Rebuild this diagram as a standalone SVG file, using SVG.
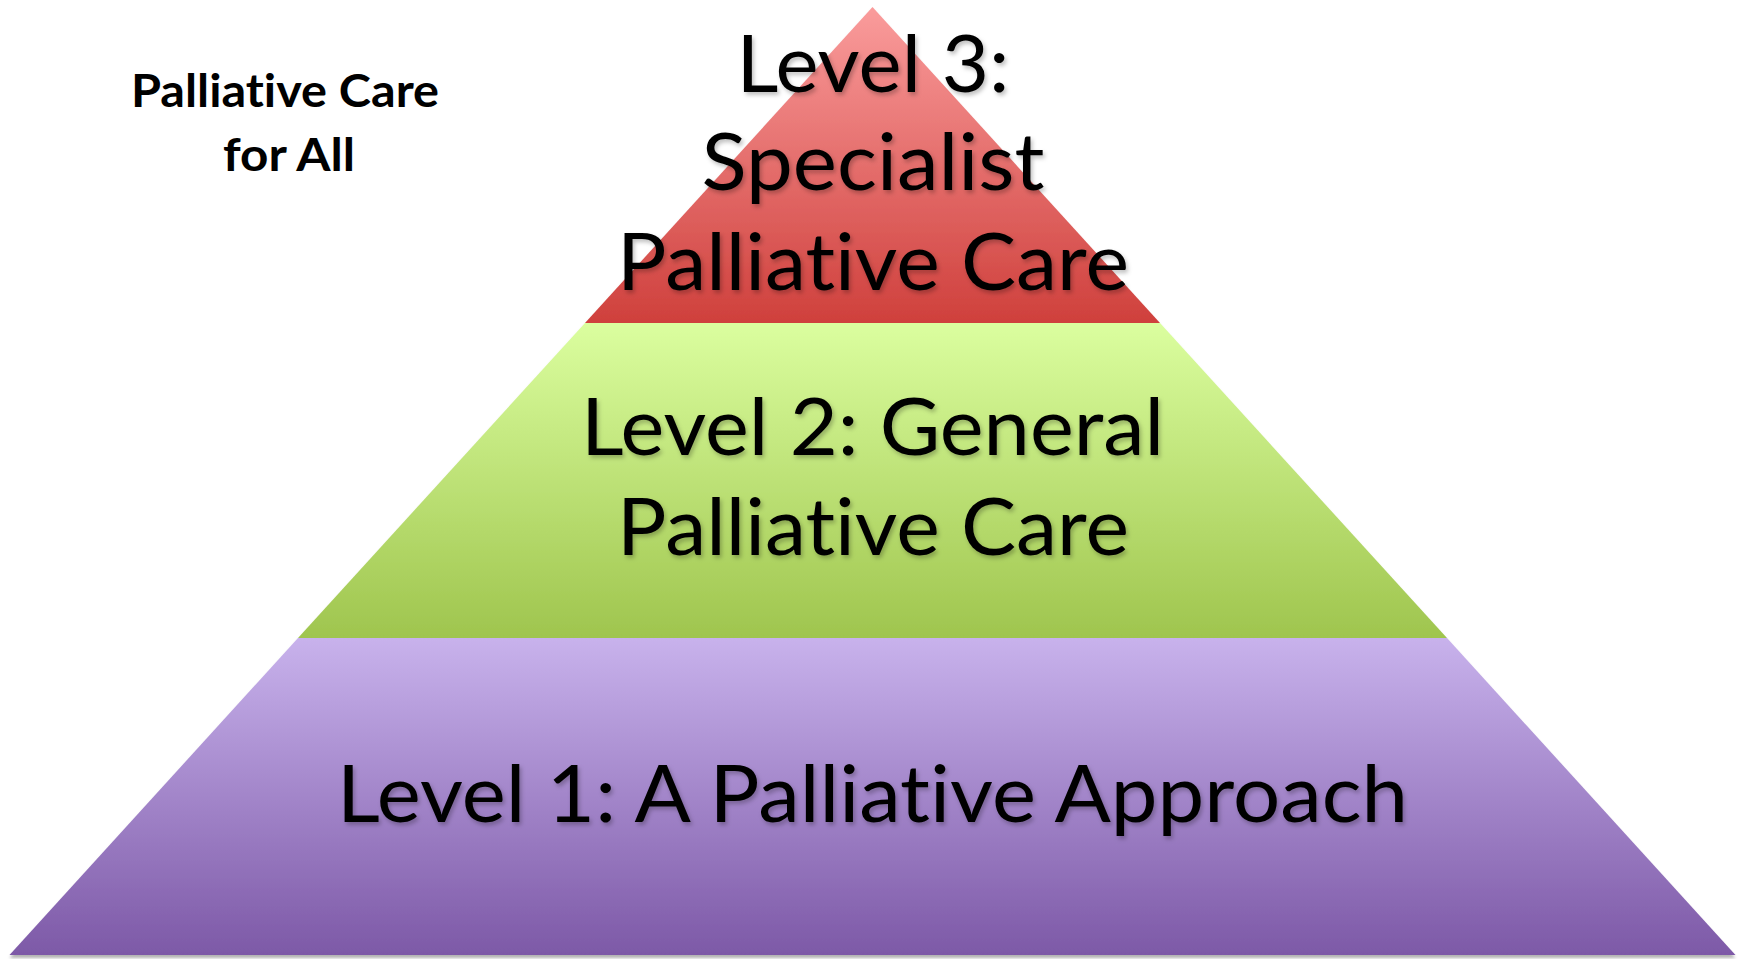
<svg xmlns="http://www.w3.org/2000/svg" width="1750" height="959" viewBox="0 0 1750 959">
  <style>
    text { font-variant-ligatures: none; font-feature-settings: "liga" 0, "clig" 0, "dlig" 0; }
    .lvl { font-family: Lato, "Open Sans", "Liberation Sans", sans-serif; font-size: 80px; fill: #000; text-anchor: middle; filter: url(#tshadow); }
    .title { font-family: Lato, "Open Sans", "Liberation Sans", sans-serif; font-size: 45px; font-weight: bold; fill: #000; text-anchor: middle; }
  </style>
  <defs>
    <linearGradient id="g3" x1="0" y1="0" x2="0" y2="1">
      <stop offset="0" stop-color="#FA9C9C"/>
      <stop offset="1" stop-color="#CF403C"/>
    </linearGradient>
    <linearGradient id="g2" x1="0" y1="0" x2="0" y2="1">
      <stop offset="0" stop-color="#DBFE9F"/>
      <stop offset="1" stop-color="#9FC54E"/>
    </linearGradient>
    <linearGradient id="g1" x1="0" y1="0" x2="0" y2="1">
      <stop offset="0" stop-color="#C8B2EC"/>
      <stop offset="1" stop-color="#7D59A7"/>
    </linearGradient>
    <filter id="tshadow" x="-10%" y="-20%" width="120%" height="150%">
      <feDropShadow dx="2" dy="3" stdDeviation="2" flood-color="#000" flood-opacity="0.25"/>
    </filter>
    <filter id="pshadow" x="-5%" y="-5%" width="110%" height="110%">
      <feDropShadow dx="0" dy="3" stdDeviation="1.5" flood-color="#000" flood-opacity="0.3"/>
    </filter>
  </defs>

  <g id="title">
    <text class="title" x="285" y="107" textLength="308" lengthAdjust="spacingAndGlyphs">Palliative Care</text>
    <text class="title" x="289" y="171" textLength="132" lengthAdjust="spacingAndGlyphs">for All</text>
  </g>

  <g id="pyramid" filter="url(#pshadow)">
    <g id="level1">
      <polygon points="298,638 1447,638 1735.5,955 9.5,955" fill="url(#g1)"/>
    </g>
    <g id="level2">
      <polygon points="585,323 1160,323 1447,638 298,638" fill="url(#g2)"/>
    </g>
    <g id="level3">
      <polygon points="872.5,7 1160,323 585,323" fill="url(#g3)"/>
    </g>
  </g>

  <g id="labels">
    <g id="level3-label">
      <text class="lvl" x="873" y="92" textLength="273" lengthAdjust="spacingAndGlyphs">Level 3:</text>
      <text class="lvl" x="873" y="190" textLength="343" lengthAdjust="spacingAndGlyphs">Specialist</text>
      <text class="lvl" x="873" y="290" textLength="512" lengthAdjust="spacingAndGlyphs">Palliative Care</text>
    </g>
    <g id="level2-label">
      <text class="lvl" x="872.5" y="455" textLength="583" lengthAdjust="spacingAndGlyphs">Level 2: General</text>
      <text class="lvl" x="873" y="555" textLength="512" lengthAdjust="spacingAndGlyphs">Palliative Care</text>
    </g>
    <g id="level1-label">
      <text class="lvl" x="872.5" y="822" textLength="1071" lengthAdjust="spacingAndGlyphs">Level 1: A Palliative Approach</text>
    </g>
  </g>
  <g id="connectors"/>
</svg>
